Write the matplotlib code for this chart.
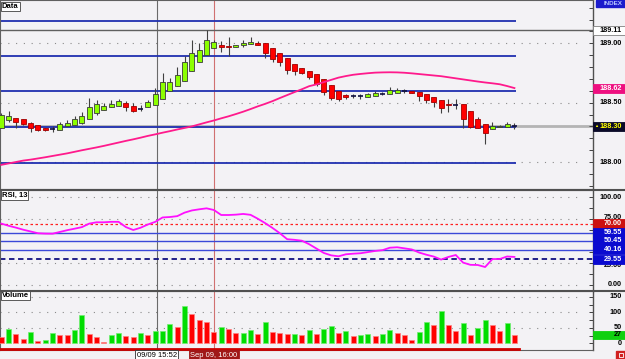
import matplotlib.pyplot as plt
from matplotlib.patches import Rectangle
from matplotlib.lines import Line2D
import numpy as np

plt.rcParams['font.family'] = ['Liberation Sans Narrow', 'Liberation Sans', 'DejaVu Sans']

# ---- dados (1 candle por minuto) ----
opens = [188.29, 188.35, 188.37, 188.36, 188.33, 188.31, 188.29, 188.28, 188.27, 188.30,
         188.31, 188.33, 188.36, 188.41, 188.44, 188.46, 188.475, 188.50, 188.475, 188.45,
         188.46, 188.48, 188.53, 188.60, 188.64, 188.685, 188.77, 188.84, 188.90, 188.96,
         188.985, 188.975, 188.97, 188.983, 188.994, 189.00, 189.00, 188.96, 188.92, 188.875,
         188.825, 188.795, 188.77, 188.741, 188.70, 188.646, 188.596, 188.562, 188.553, 188.553,
         188.55, 188.558, 188.573, 188.575, 188.581, 188.598, 188.598, 188.592, 188.57, 188.55,
         188.522, 188.485, 188.48, 188.489, 188.432, 188.362, 188.32, 188.277, 188.292, 188.298,
         188.30]
highs = [188.41, 188.43, 188.37, 188.36, 188.34, 188.31, 188.29, 188.30, 188.335, 188.35,
         188.39, 188.42, 188.54, 188.52, 188.50, 188.52, 188.53, 188.51, 188.50, 188.48,
         188.52, 188.62, 188.75, 188.71, 188.80, 188.89, 189.03, 189.00, 189.11, 189.03,
         189.02, 189.05, 188.99, 189.028, 189.05, 189.02, 189.00, 188.96, 188.92, 188.875,
         188.825, 188.795, 188.77, 188.741, 188.70, 188.646, 188.596, 188.57, 188.57, 188.575,
         188.584, 188.595, 188.59, 188.632, 188.62, 188.618, 188.60, 188.592, 188.57, 188.55,
         188.522, 188.535, 188.535, 188.489, 188.432, 188.38, 188.32, 188.333, 188.315, 188.333,
         188.325]
lows = [188.29, 188.34, 188.29, 188.31, 188.25, 188.26, 188.26, 188.25, 188.27, 188.30,
        188.31, 188.32, 188.36, 188.40, 188.44, 188.46, 188.475, 188.43, 188.42, 188.43,
        188.46, 188.48, 188.53, 188.60, 188.64, 188.685, 188.77, 188.84, 188.90, 188.96,
        188.93, 188.89, 188.97, 188.966, 188.994, 188.99, 188.88, 188.84, 188.81, 188.74,
        188.73, 188.745, 188.70, 188.64, 188.564, 188.522, 188.516, 188.533, 188.54, 188.535,
        188.55, 188.558, 188.565, 188.575, 188.581, 188.58, 188.581, 188.516, 188.50, 188.466,
        188.41, 188.424, 188.443, 188.284, 188.284, 188.284, 188.152, 188.277, 188.292, 188.298,
        188.28]
closes = [188.40, 188.39, 188.34, 188.32, 188.29, 188.27, 188.27, 188.28, 188.32, 188.33,
          188.36, 188.39, 188.46, 188.49, 188.47, 188.49, 188.51, 188.46, 188.43, 188.45,
          188.505, 188.57, 188.67, 188.67, 188.73, 188.84, 188.92, 188.94, 189.03, 189.01,
          188.97, 188.97, 188.99, 189.005, 189.013, 188.99, 188.92, 188.87, 188.84, 188.775,
          188.77, 188.75, 188.713, 188.655, 188.592, 188.542, 188.528, 188.545, 188.553, 188.553,
          188.573, 188.581, 188.573, 188.607, 188.607, 188.598, 188.581, 188.556, 188.522, 188.503,
          188.452, 188.48, 188.48, 188.362, 188.292, 188.284, 188.242, 188.306, 188.303, 188.32,
          188.30]
ma = [187.976, 187.988, 188.000, 188.012, 188.020, 188.030, 188.040, 188.051, 188.062, 188.073,
      188.086, 188.099, 188.111, 188.123, 188.136, 188.150, 188.164, 188.178, 188.191, 188.205,
      188.220, 188.233, 188.247, 188.260, 188.274, 188.287, 188.300, 188.317, 188.334, 188.350,
      188.368, 188.385, 188.404, 188.424, 188.446, 188.469, 188.490, 188.513, 188.539, 188.564,
      188.589, 188.613, 188.639, 188.654, 188.673, 188.692, 188.711, 188.724, 188.735, 188.742,
      188.748, 188.753, 188.755, 188.756, 188.755, 188.752, 188.747, 188.741, 188.735, 188.729,
      188.723, 188.714, 188.705, 188.696, 188.687, 188.678, 188.670, 188.663, 188.655, 188.640,
      188.623]
rsi = [70.0, 67.5, 65.4, 63.0, 61.0, 59.0, 58.6, 58.5, 60.5, 62.5,
       64.2, 66.0, 70.0, 71.5, 71.5, 72.0, 72.0, 66.0, 62.7, 65.3,
       69.0, 72.0, 77.0, 77.5, 78.5, 82.5, 85.0, 86.3, 87.4, 85.5,
       79.8, 79.8, 80.2, 81.0, 80.0, 75.5, 70.5, 65.0, 59.0, 52.2,
       51.5, 50.5, 46.5, 41.5, 36.5, 33.8, 32.7, 35.0, 35.7, 36.2,
       37.5, 38.8, 39.7, 42.5, 43.0, 41.8, 40.5, 37.0, 34.5, 32.4,
       29.0, 32.0, 34.2, 25.5, 23.0, 22.8, 20.5, 29.6, 29.6, 32.5,
       32.0]
volume = [19, 46, 31, 15, 35, 8, 10, 33, 26, 26,
          43, 91, 30, 20, 5, 26, 33, 22, 21, 33,
          26, 39, 41, 62, 54, 121, 95, 75, 68, 37,
          54, 47, 33, 34, 43, 30, 68, 38, 32, 30,
          31, 26, 42, 30, 46, 56, 32, 40, 24, 28,
          30, 24, 30, 43, 33, 26, 11, 38, 70, 59,
          104, 60, 39, 65, 27, 49, 75, 59, 39, 65,
          27]

fib_levels = [187.99, 188.295, 188.595, 188.895, 189.19]
price_ticks = [188.00, 188.50, 189.00]
high_mark = 189.11
last_price = 188.30
ma_last = 188.62
rsi_blue = [59.55, 50.45, 40.16]
rsi_over = 70.00
rsi_under = 29.55
rsi_ticks = [0, 25, 75, 100]
vol_ticks = [0, 50, 100, 150]
vol_last = 27
cursor_idx = 21.2
selected_idx = 29
cursor_label = "09/09 15:52"
selected_label = "Sep 09, 16:00"

# ---- layout em pixels ----
W, H = 625, 359
bg = '#f3f2f5'
fig = plt.figure(figsize=(W / 100, H / 100), dpi=100)
fig.patch.set_facecolor(bg)


def px_axes(x0, y0, x1, y1):
    return fig.add_axes([x0 / W, 1 - y1 / H, (x1 - x0) / W, (y1 - y0) / H])


ax_p = px_axes(0, 0, 593, 189)
ax_r = px_axes(0, 190, 593, 290.5)
ax_v = px_axes(0, 291, 593, 350)

ax_p.set_ylim(187.7725, 189.365)
ax_r.set_ylim(-6.27, 108.3)
ax_v.set_ylim(-21.6, 168.7)

idx = np.arange(len(closes))
grid_end = 78.5
for ax in (ax_p, ax_r, ax_v):
    ax.set_xlim(-0.18, 80.72)
    ax.set_facecolor(bg)
    ax.set_xticks([])
    ax.yaxis.set_ticks_position('right')
    ax.tick_params(axis='y', direction='in', length=3, labelright=False,
                   color='#404040', width=0.7)
    for s in ax.spines.values():
        s.set_color('#606060')
        s.set_linewidth(0.8)
    ax.spines['right'].set_color('#505050')
    ax.spines['right'].set_linewidth(1.0)
    ax.axvline(cursor_idx, color='#6a6a6a', lw=0.8, zorder=2)
    ax.axvline(selected_idx, color='#d07070', lw=0.8, zorder=2)

ax_p.set_yticks(np.arange(187.8, 189.35, 0.1))
ax_r.set_yticks(np.arange(0, 101, 12.5))
ax_v.set_yticks(np.arange(0, 166, 25))

# ---- painel de preco ----
ax_p.hlines(price_ticks, -0.2, grid_end, colors='#8a8a8a', lw=0.8, linestyles=(0, (1, 6)), zorder=1)
ax_p.axhline(last_price, color='#b4b4b4', lw=2.0, zorder=1)
ax_p.hlines(fib_levels, -0.2, 70.2, colors='#2030b0', lw=1.3, zorder=2)
ax_p.axhline(high_mark, color='#606060', lw=1.0, zorder=2)

for i in idx:
    o, h, l, c = opens[i], highs[i], lows[i], closes[i]
    ax_p.vlines(i, l, h, color='#404040', lw=0.8, zorder=3)
    if c == o:
        ax_p.hlines(c, i - 0.33, i + 0.33, color='#101040', lw=1.2, zorder=4)
        continue
    if c > o:
        fill, edge = '#8cff00', '#3a3a3a'
    else:
        fill, edge = '#ff0000', '#a00000'
    ax_p.add_patch(Rectangle((i - 0.34, min(o, c)), 0.68, max(abs(c - o), 0.008),
                             facecolor=fill, edgecolor=edge, lw=0.6, zorder=4))

ax_p.plot(idx, ma, color='#ff1a8c', lw=1.3, zorder=5)

# ---- painel RSI ----
ax_r.hlines(rsi_ticks, -0.2, grid_end, colors='#8a8a8a', lw=0.8, linestyles=(0, (1, 6)), zorder=1)
ax_r.axhline(rsi_over, color='#ff2020', lw=0.9, ls=(0, (2, 2)), zorder=2)
for v in rsi_blue:
    ax_r.axhline(v, color='#3a48d8', lw=1.0, zorder=2)
ax_r.axhline(rsi_under, color='#101080', lw=1.3, ls=(0, (3, 2)), zorder=2)
ax_r.plot(idx, rsi, color='#ff10ff', lw=1.3, zorder=5)

# ---- painel de volume ----
ax_v.hlines(vol_ticks[1:], -0.2, grid_end, colors='#8a8a8a', lw=0.8, linestyles=(0, (1, 6)), zorder=1)
vol_up = [i > 0 and volume[i] > volume[i - 1] for i in idx]
ax_v.bar(idx, volume, width=0.68,
         color=['#00dd00' if u else '#ff0000' for u in vol_up],
         edgecolor=['#70ee70' if u else '#ff8080' for u in vol_up], lw=0.5, zorder=3)
ax_v.plot([-0.2, 70.6], [0.015, 0.015], color='#cc0000', lw=2.0,
          transform=ax_v.get_xaxis_transform(), clip_on=False, zorder=4)

# ---- rotulos do eixo direito ----
def side_label(ax, y, text, fc=None, tc='black', ec=None, box_h=9, z=6, dy=0):
    y0, y1 = ax.get_ylim()
    du = (y1 - y0) / (ax.get_position().height * H)
    tr = ax.get_yaxis_transform()
    if fc:
        ax.add_patch(Rectangle((1.0, y - box_h / 2 * du), 32 / 593, box_h * du, transform=tr,
                               facecolor=fc, edgecolor=ec or fc, lw=0.6, clip_on=False, zorder=z))
    ax.text(1 + 29 / 593, y + dy * du, text, transform=tr, ha='right', va='center', fontsize=5.2,
            fontweight='bold', color=tc, clip_on=False, zorder=z + 1)


for v in price_ticks:
    side_label(ax_p, v, f"{v:.2f}")
side_label(ax_p, high_mark, f"{high_mark:.2f}", fc='white', ec='#808080')
side_label(ax_p, ma_last, f"{ma_last:.2f}", fc='#ee1080', tc='white')
side_label(ax_p, last_price, f"{last_price:.2f}", fc='#0a0a28', tc='#ffff00')
ax_p.text(1 + 3.5 / 593, last_price, "\u25b2", transform=ax_p.get_yaxis_transform(), ha='center',
          va='center', fontsize=3, color='#ffff00', clip_on=False, zorder=8)
ax_p.add_patch(Rectangle((1 + 3 / 593, 1 - 7 / 189), 29 / 593, 7 / 189, transform=ax_p.transAxes,
                         facecolor='#1c1ccc', edgecolor='#1c1ccc', clip_on=False, zorder=6))
ax_p.text(1 + 29 / 593, 1 - 3.5 / 189, "INDEX", transform=ax_p.transAxes, ha='right', va='center',
          fontsize=4.5, fontweight='bold', color='#b8c8ff', clip_on=False, zorder=7)

# 75.00 e 25.00 ficam parcialmente escondidos atras das caixas, como no original
side_label(ax_r, 100, "100.00", z=3)
side_label(ax_r, 75, "75.00", z=3, dy=2)
side_label(ax_r, 25, "25.00", z=3, dy=-2)
side_label(ax_r, 0, "0.00", z=3)
side_label(ax_r, rsi_over, f"{rsi_over:.2f}", fc='#cc1010', tc='white')
for v in rsi_blue + [rsi_under]:
    side_label(ax_r, v, f"{v:.2f}", fc='#0a0ad0', tc='white')

for v in vol_ticks:
    side_label(ax_v, v, f"{v}")
side_label(ax_v, vol_last, f"{vol_last}", fc='#10d010', tc='black', box_h=8)

# ---- titulos dos paineis ----
for ax, name in ((ax_p, "Data"), (ax_r, "RSI, 13"), (ax_v, "Volume")):
    ax.text(0.003, 0.985, name, transform=ax.transAxes, ha='left', va='top', fontsize=5.5,
            fontweight='bold', zorder=8,
            bbox=dict(boxstyle='square,pad=0.15', fc='white', ec='#404040', lw=0.6))

# ---- separadores e rotulos de tempo ----
for yy in (189.5, 290.8):
    fig.add_artist(Line2D([0, 1], [1 - yy / H] * 2, color='#505050', lw=1.5))

ax_v.text(cursor_idx, -0.085, cursor_label, transform=ax_v.get_xaxis_transform(), ha='center',
          va='center', fontsize=5.5, color='black', clip_on=False, zorder=8,
          bbox=dict(boxstyle='square,pad=0.2', fc='white', ec='#303030', lw=0.6))
ax_v.text(selected_idx, -0.085, selected_label, transform=ax_v.get_xaxis_transform(), ha='center',
          va='center', fontsize=5.5, color='white', clip_on=False, zorder=8,
          bbox=dict(boxstyle='square,pad=0.2', fc='#a01818', ec='#a01818', lw=0.6))
fig.add_artist(Rectangle((616 / W, 0), 9 / W, 8 / H, transform=fig.transFigure,
                         facecolor='#d02020', edgecolor='#d02020'))
fig.add_artist(Rectangle((618.5 / W, 1.8 / H), 4 / W, 4 / H, transform=fig.transFigure,
                         facecolor='none', edgecolor='white', lw=0.6))

fig.savefig('out.png', dpi=100, facecolor=fig.get_facecolor())
